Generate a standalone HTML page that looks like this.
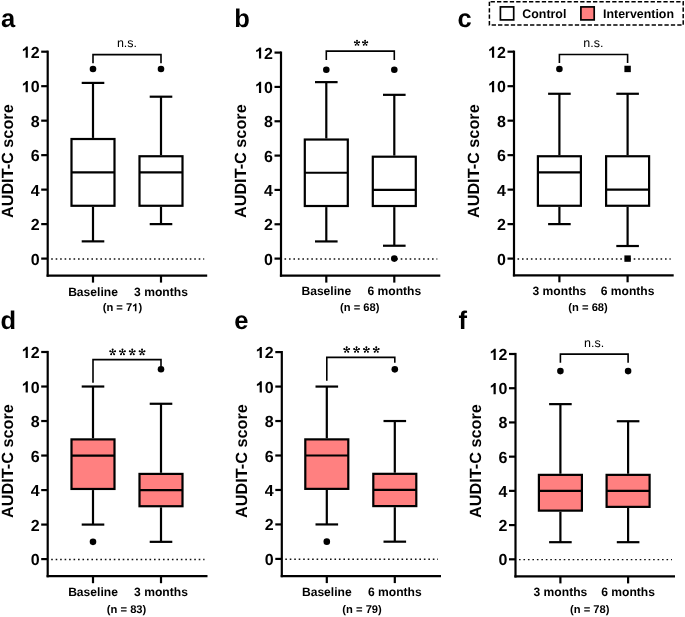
<!DOCTYPE html>
<html><head><meta charset="utf-8"><style>
html,body{margin:0;padding:0;background:#fff;width:685px;height:617px;overflow:hidden}
svg{display:block;will-change:transform}
text{font-family:"Liberation Sans", sans-serif;fill:#000;text-rendering:geometricPrecision}
</style></head><body>
<svg width="685" height="617" viewBox="0 0 685 617">
<rect width="685" height="617" fill="#fff"/>
<line x1="47.7" y1="50.6" x2="47.7" y2="276.7" stroke="#000" stroke-width="2.2" stroke-linecap="butt" />
<line x1="46.6" y1="275.6" x2="207.2" y2="275.6" stroke="#000" stroke-width="2.2" stroke-linecap="butt" />
<line x1="41.2" y1="258.6" x2="47.7" y2="258.6" stroke="#000" stroke-width="2.2" stroke-linecap="butt" />
<text x="39.6" y="264.6" font-size="16" font-weight="bold" text-anchor="end" >0</text>
<line x1="41.2" y1="224.12" x2="47.7" y2="224.12" stroke="#000" stroke-width="2.2" stroke-linecap="butt" />
<text x="39.6" y="230.12" font-size="16" font-weight="bold" text-anchor="end" >2</text>
<line x1="41.2" y1="189.63" x2="47.7" y2="189.63" stroke="#000" stroke-width="2.2" stroke-linecap="butt" />
<text x="39.6" y="195.63" font-size="16" font-weight="bold" text-anchor="end" >4</text>
<line x1="41.2" y1="155.15" x2="47.7" y2="155.15" stroke="#000" stroke-width="2.2" stroke-linecap="butt" />
<text x="39.6" y="161.15" font-size="16" font-weight="bold" text-anchor="end" >6</text>
<line x1="41.2" y1="120.67" x2="47.7" y2="120.67" stroke="#000" stroke-width="2.2" stroke-linecap="butt" />
<text x="39.6" y="126.67" font-size="16" font-weight="bold" text-anchor="end" >8</text>
<line x1="41.2" y1="86.18" x2="47.7" y2="86.18" stroke="#000" stroke-width="2.2" stroke-linecap="butt" />
<path transform="translate(21.8 92.18)" d="M6.05 0L6.05 -11.2L4.35 -11.2C3.85 -10.1 2.6 -9.1 1.1 -8.5L1.1 -6.5C2.1 -6.9 3.2 -7.4 3.85 -7.9L3.85 0Z" fill="#000"/>
<text x="39.6" y="92.18" font-size="16" font-weight="bold" text-anchor="end" >0</text>
<line x1="41.2" y1="51.7" x2="47.7" y2="51.7" stroke="#000" stroke-width="2.2" stroke-linecap="butt" />
<path transform="translate(21.8 57.7)" d="M6.05 0L6.05 -11.2L4.35 -11.2C3.85 -10.1 2.6 -9.1 1.1 -8.5L1.1 -6.5C2.1 -6.9 3.2 -7.4 3.85 -7.9L3.85 0Z" fill="#000"/>
<text x="39.6" y="57.7" font-size="16" font-weight="bold" text-anchor="end" >2</text>
<line x1="51.2" y1="258.9" x2="204.2" y2="258.9" stroke="#111" stroke-width="1.45" stroke-dasharray="1.6 2.87"/>
<line x1="93" y1="275.6" x2="93" y2="282.6" stroke="#000" stroke-width="2.2" stroke-linecap="butt" />
<line x1="161" y1="275.6" x2="161" y2="282.6" stroke="#000" stroke-width="2.2" stroke-linecap="butt" />
<line x1="93" y1="82.91" x2="93" y2="137.91" stroke="#000" stroke-width="2.2" stroke-linecap="butt" />
<line x1="93" y1="206.88" x2="93" y2="241.36" stroke="#000" stroke-width="2.2" stroke-linecap="butt" />
<line x1="81.7" y1="82.91" x2="104.3" y2="82.91" stroke="#000" stroke-width="2.2" stroke-linecap="butt" />
<line x1="81.7" y1="241.36" x2="104.3" y2="241.36" stroke="#000" stroke-width="2.2" stroke-linecap="butt" />
<rect x="71.5" y="139.01" width="43" height="66.77" fill="#fff" stroke="#000" stroke-width="2.2"/>
<line x1="71.5" y1="172.39" x2="114.5" y2="172.39" stroke="#000" stroke-width="2.2" stroke-linecap="butt" />
<line x1="161" y1="96.7" x2="161" y2="155.15" stroke="#000" stroke-width="2.2" stroke-linecap="butt" />
<line x1="161" y1="206.88" x2="161" y2="224.12" stroke="#000" stroke-width="2.2" stroke-linecap="butt" />
<line x1="149.7" y1="96.7" x2="172.3" y2="96.7" stroke="#000" stroke-width="2.2" stroke-linecap="butt" />
<line x1="149.7" y1="224.12" x2="172.3" y2="224.12" stroke="#000" stroke-width="2.2" stroke-linecap="butt" />
<rect x="139.5" y="156.25" width="43" height="49.52" fill="#fff" stroke="#000" stroke-width="2.2"/>
<line x1="139.5" y1="172.39" x2="182.5" y2="172.39" stroke="#000" stroke-width="2.2" stroke-linecap="butt" />
<circle cx="93" cy="68.94" r="3.3" fill="#000"/>
<circle cx="161" cy="68.94" r="3.3" fill="#000"/>
<path d="M93 63.2 V54.6 H161 V63.2" fill="none" stroke="#000" stroke-width="1.6"/>
<text x="127" y="47.4" font-size="12.5" font-weight="normal" text-anchor="middle" >n.s.</text>
<text x="93" y="295.6" font-size="12.1" font-weight="bold" text-anchor="middle" >Baseline</text>
<text x="161" y="295.6" font-size="12.1" font-weight="bold" text-anchor="middle" >3 months</text>
<path transform="translate(132.2 311.3) scale(0.7000)" d="M6.05 0L6.05 -11.2L4.35 -11.2C3.85 -10.1 2.6 -9.1 1.1 -8.5L1.1 -6.5C2.1 -6.9 3.2 -7.4 3.85 -7.9L3.85 0Z" fill="#000"/>
<text x="122.4" y="311.3" font-size="11.2" font-weight="bold" text-anchor="middle" >(n = 7&#8199;)</text>
<text x="0" y="0" font-size="16.25" font-weight="bold" text-anchor="middle" transform="translate(12.6 161.2) rotate(-90)">AUDIT-C score</text>
<text x="0.9" y="26.7" font-size="25.5" font-weight="bold" text-anchor="start" >a</text>
<line x1="281" y1="51.5" x2="281" y2="276.7" stroke="#000" stroke-width="2.2" stroke-linecap="butt" />
<line x1="279.9" y1="275.6" x2="440.3" y2="275.6" stroke="#000" stroke-width="2.2" stroke-linecap="butt" />
<line x1="274.5" y1="258.6" x2="281" y2="258.6" stroke="#000" stroke-width="2.2" stroke-linecap="butt" />
<text x="272.9" y="264.6" font-size="16" font-weight="bold" text-anchor="end" >0</text>
<line x1="274.5" y1="224.27" x2="281" y2="224.27" stroke="#000" stroke-width="2.2" stroke-linecap="butt" />
<text x="272.9" y="230.27" font-size="16" font-weight="bold" text-anchor="end" >2</text>
<line x1="274.5" y1="189.93" x2="281" y2="189.93" stroke="#000" stroke-width="2.2" stroke-linecap="butt" />
<text x="272.9" y="195.93" font-size="16" font-weight="bold" text-anchor="end" >4</text>
<line x1="274.5" y1="155.6" x2="281" y2="155.6" stroke="#000" stroke-width="2.2" stroke-linecap="butt" />
<text x="272.9" y="161.6" font-size="16" font-weight="bold" text-anchor="end" >6</text>
<line x1="274.5" y1="121.27" x2="281" y2="121.27" stroke="#000" stroke-width="2.2" stroke-linecap="butt" />
<text x="272.9" y="127.27" font-size="16" font-weight="bold" text-anchor="end" >8</text>
<line x1="274.5" y1="86.93" x2="281" y2="86.93" stroke="#000" stroke-width="2.2" stroke-linecap="butt" />
<path transform="translate(255.1 92.93)" d="M6.05 0L6.05 -11.2L4.35 -11.2C3.85 -10.1 2.6 -9.1 1.1 -8.5L1.1 -6.5C2.1 -6.9 3.2 -7.4 3.85 -7.9L3.85 0Z" fill="#000"/>
<text x="272.9" y="92.93" font-size="16" font-weight="bold" text-anchor="end" >0</text>
<line x1="274.5" y1="52.6" x2="281" y2="52.6" stroke="#000" stroke-width="2.2" stroke-linecap="butt" />
<path transform="translate(255.1 58.6)" d="M6.05 0L6.05 -11.2L4.35 -11.2C3.85 -10.1 2.6 -9.1 1.1 -8.5L1.1 -6.5C2.1 -6.9 3.2 -7.4 3.85 -7.9L3.85 0Z" fill="#000"/>
<text x="272.9" y="58.6" font-size="16" font-weight="bold" text-anchor="end" >2</text>
<line x1="284.5" y1="258.9" x2="437.3" y2="258.9" stroke="#111" stroke-width="1.45" stroke-dasharray="1.6 2.87"/>
<line x1="326.3" y1="275.6" x2="326.3" y2="282.6" stroke="#000" stroke-width="2.2" stroke-linecap="butt" />
<line x1="394.3" y1="275.6" x2="394.3" y2="282.6" stroke="#000" stroke-width="2.2" stroke-linecap="butt" />
<line x1="326.3" y1="82.13" x2="326.3" y2="138.43" stroke="#000" stroke-width="2.2" stroke-linecap="butt" />
<line x1="326.3" y1="207.1" x2="326.3" y2="241.43" stroke="#000" stroke-width="2.2" stroke-linecap="butt" />
<line x1="315" y1="82.13" x2="337.6" y2="82.13" stroke="#000" stroke-width="2.2" stroke-linecap="butt" />
<line x1="315" y1="241.43" x2="337.6" y2="241.43" stroke="#000" stroke-width="2.2" stroke-linecap="butt" />
<rect x="304.8" y="139.53" width="43" height="66.47" fill="#fff" stroke="#000" stroke-width="2.2"/>
<line x1="304.8" y1="172.77" x2="347.8" y2="172.77" stroke="#000" stroke-width="2.2" stroke-linecap="butt" />
<line x1="394.3" y1="94.83" x2="394.3" y2="155.6" stroke="#000" stroke-width="2.2" stroke-linecap="butt" />
<line x1="394.3" y1="207.1" x2="394.3" y2="245.73" stroke="#000" stroke-width="2.2" stroke-linecap="butt" />
<line x1="383" y1="94.83" x2="405.6" y2="94.83" stroke="#000" stroke-width="2.2" stroke-linecap="butt" />
<line x1="383" y1="245.73" x2="405.6" y2="245.73" stroke="#000" stroke-width="2.2" stroke-linecap="butt" />
<rect x="372.8" y="156.7" width="43" height="49.3" fill="#fff" stroke="#000" stroke-width="2.2"/>
<line x1="372.8" y1="189.93" x2="415.8" y2="189.93" stroke="#000" stroke-width="2.2" stroke-linecap="butt" />
<circle cx="326.3" cy="69.77" r="3.3" fill="#000"/>
<circle cx="394.3" cy="69.77" r="3.3" fill="#000"/>
<circle cx="394.3" cy="258.6" r="3.3" fill="#000"/>
<path d="M326.3 60 V51.1 H394.3 V60" fill="none" stroke="#000" stroke-width="1.6"/>
<circle cx="357.00" cy="40.70" r="0.92" fill="#000"/>
<circle cx="359.19" cy="42.29" r="0.92" fill="#000"/>
<circle cx="358.35" cy="44.86" r="0.92" fill="#000"/>
<circle cx="355.65" cy="44.86" r="0.92" fill="#000"/>
<circle cx="354.81" cy="42.29" r="0.92" fill="#000"/>
<path d="M357.00 43.00L357.00 40.70M357.00 43.00L359.19 42.29M357.00 43.00L358.35 44.86M357.00 43.00L355.65 44.86M357.00 43.00L354.81 42.29" stroke="#000" stroke-width="0.85" stroke-linecap="round" fill="none"/>
<circle cx="365.10" cy="40.70" r="0.92" fill="#000"/>
<circle cx="367.29" cy="42.29" r="0.92" fill="#000"/>
<circle cx="366.45" cy="44.86" r="0.92" fill="#000"/>
<circle cx="363.75" cy="44.86" r="0.92" fill="#000"/>
<circle cx="362.91" cy="42.29" r="0.92" fill="#000"/>
<path d="M365.10 43.00L365.10 40.70M365.10 43.00L367.29 42.29M365.10 43.00L366.45 44.86M365.10 43.00L363.75 44.86M365.10 43.00L362.91 42.29" stroke="#000" stroke-width="0.85" stroke-linecap="round" fill="none"/>
<text x="326.3" y="295.2" font-size="12.1" font-weight="bold" text-anchor="middle" >Baseline</text>
<text x="394.3" y="295.2" font-size="12.1" font-weight="bold" text-anchor="middle" >6 months</text>
<text x="359.8" y="311.3" font-size="11.2" font-weight="bold" text-anchor="middle" >(n = 68)</text>
<text x="0" y="0" font-size="16.25" font-weight="bold" text-anchor="middle" transform="translate(246.2 161.2) rotate(-90)">AUDIT-C score</text>
<text x="234.2" y="26.7" font-size="25.5" font-weight="bold" text-anchor="start" >b</text>
<line x1="514" y1="50.6" x2="514" y2="276.4" stroke="#000" stroke-width="2.2" stroke-linecap="butt" />
<line x1="512.9" y1="275.3" x2="673.7" y2="275.3" stroke="#000" stroke-width="2.2" stroke-linecap="butt" />
<line x1="507.5" y1="258.6" x2="514" y2="258.6" stroke="#000" stroke-width="2.2" stroke-linecap="butt" />
<text x="505.9" y="264.6" font-size="16" font-weight="bold" text-anchor="end" >0</text>
<line x1="507.5" y1="224.12" x2="514" y2="224.12" stroke="#000" stroke-width="2.2" stroke-linecap="butt" />
<text x="505.9" y="230.12" font-size="16" font-weight="bold" text-anchor="end" >2</text>
<line x1="507.5" y1="189.63" x2="514" y2="189.63" stroke="#000" stroke-width="2.2" stroke-linecap="butt" />
<text x="505.9" y="195.63" font-size="16" font-weight="bold" text-anchor="end" >4</text>
<line x1="507.5" y1="155.15" x2="514" y2="155.15" stroke="#000" stroke-width="2.2" stroke-linecap="butt" />
<text x="505.9" y="161.15" font-size="16" font-weight="bold" text-anchor="end" >6</text>
<line x1="507.5" y1="120.67" x2="514" y2="120.67" stroke="#000" stroke-width="2.2" stroke-linecap="butt" />
<text x="505.9" y="126.67" font-size="16" font-weight="bold" text-anchor="end" >8</text>
<line x1="507.5" y1="86.18" x2="514" y2="86.18" stroke="#000" stroke-width="2.2" stroke-linecap="butt" />
<path transform="translate(488.1 92.18)" d="M6.05 0L6.05 -11.2L4.35 -11.2C3.85 -10.1 2.6 -9.1 1.1 -8.5L1.1 -6.5C2.1 -6.9 3.2 -7.4 3.85 -7.9L3.85 0Z" fill="#000"/>
<text x="505.9" y="92.18" font-size="16" font-weight="bold" text-anchor="end" >0</text>
<line x1="507.5" y1="51.7" x2="514" y2="51.7" stroke="#000" stroke-width="2.2" stroke-linecap="butt" />
<path transform="translate(488.1 57.7)" d="M6.05 0L6.05 -11.2L4.35 -11.2C3.85 -10.1 2.6 -9.1 1.1 -8.5L1.1 -6.5C2.1 -6.9 3.2 -7.4 3.85 -7.9L3.85 0Z" fill="#000"/>
<text x="505.9" y="57.7" font-size="16" font-weight="bold" text-anchor="end" >2</text>
<line x1="517.5" y1="258.9" x2="670.7" y2="258.9" stroke="#111" stroke-width="1.45" stroke-dasharray="1.6 2.87"/>
<line x1="559.4" y1="275.3" x2="559.4" y2="282.3" stroke="#000" stroke-width="2.2" stroke-linecap="butt" />
<line x1="627.6" y1="275.3" x2="627.6" y2="282.3" stroke="#000" stroke-width="2.2" stroke-linecap="butt" />
<line x1="559.4" y1="93.77" x2="559.4" y2="155.15" stroke="#000" stroke-width="2.2" stroke-linecap="butt" />
<line x1="559.4" y1="206.88" x2="559.4" y2="224.12" stroke="#000" stroke-width="2.2" stroke-linecap="butt" />
<line x1="548.1" y1="93.77" x2="570.7" y2="93.77" stroke="#000" stroke-width="2.2" stroke-linecap="butt" />
<line x1="548.1" y1="224.12" x2="570.7" y2="224.12" stroke="#000" stroke-width="2.2" stroke-linecap="butt" />
<rect x="537.9" y="156.25" width="43" height="49.52" fill="#fff" stroke="#000" stroke-width="2.2"/>
<line x1="537.9" y1="172.39" x2="580.9" y2="172.39" stroke="#000" stroke-width="2.2" stroke-linecap="butt" />
<line x1="627.6" y1="93.77" x2="627.6" y2="155.15" stroke="#000" stroke-width="2.2" stroke-linecap="butt" />
<line x1="627.6" y1="206.88" x2="627.6" y2="246.01" stroke="#000" stroke-width="2.2" stroke-linecap="butt" />
<line x1="616.3" y1="93.77" x2="638.9" y2="93.77" stroke="#000" stroke-width="2.2" stroke-linecap="butt" />
<line x1="616.3" y1="246.01" x2="638.9" y2="246.01" stroke="#000" stroke-width="2.2" stroke-linecap="butt" />
<rect x="606.1" y="156.25" width="43" height="49.52" fill="#fff" stroke="#000" stroke-width="2.2"/>
<line x1="606.1" y1="189.63" x2="649.1" y2="189.63" stroke="#000" stroke-width="2.2" stroke-linecap="butt" />
<circle cx="559.4" cy="68.94" r="3.3" fill="#000"/>
<rect x="624.4" y="65.74" width="6.4" height="6.4" fill="#000"/>
<rect x="624.4" y="255.4" width="6.4" height="6.4" fill="#000"/>
<path d="M559.4 63 V54.5 H627.6 V63" fill="none" stroke="#000" stroke-width="1.6"/>
<text x="593.3" y="47.1" font-size="12.5" font-weight="normal" text-anchor="middle" >n.s.</text>
<text x="559.4" y="295.3" font-size="12.1" font-weight="bold" text-anchor="middle" >3 months</text>
<text x="627.6" y="295.3" font-size="12.1" font-weight="bold" text-anchor="middle" >6 months</text>
<text x="588.1" y="311.3" font-size="11.2" font-weight="bold" text-anchor="middle" >(n = 68)</text>
<text x="0" y="0" font-size="16.25" font-weight="bold" text-anchor="middle" transform="translate(479.2 161.2) rotate(-90)">AUDIT-C score</text>
<text x="457.5" y="26.7" font-size="25.5" font-weight="bold" text-anchor="start" >c</text>
<line x1="47.7" y1="350.9" x2="47.7" y2="577.3" stroke="#000" stroke-width="2.2" stroke-linecap="butt" />
<line x1="46.6" y1="576.2" x2="207.5" y2="576.2" stroke="#000" stroke-width="2.2" stroke-linecap="butt" />
<line x1="41.2" y1="559.1" x2="47.7" y2="559.1" stroke="#000" stroke-width="2.2" stroke-linecap="butt" />
<text x="39.6" y="565.1" font-size="16" font-weight="bold" text-anchor="end" >0</text>
<line x1="41.2" y1="524.58" x2="47.7" y2="524.58" stroke="#000" stroke-width="2.2" stroke-linecap="butt" />
<text x="39.6" y="530.58" font-size="16" font-weight="bold" text-anchor="end" >2</text>
<line x1="41.2" y1="490.07" x2="47.7" y2="490.07" stroke="#000" stroke-width="2.2" stroke-linecap="butt" />
<text x="39.6" y="496.07" font-size="16" font-weight="bold" text-anchor="end" >4</text>
<line x1="41.2" y1="455.55" x2="47.7" y2="455.55" stroke="#000" stroke-width="2.2" stroke-linecap="butt" />
<text x="39.6" y="461.55" font-size="16" font-weight="bold" text-anchor="end" >6</text>
<line x1="41.2" y1="421.03" x2="47.7" y2="421.03" stroke="#000" stroke-width="2.2" stroke-linecap="butt" />
<text x="39.6" y="427.03" font-size="16" font-weight="bold" text-anchor="end" >8</text>
<line x1="41.2" y1="386.52" x2="47.7" y2="386.52" stroke="#000" stroke-width="2.2" stroke-linecap="butt" />
<path transform="translate(21.8 392.52)" d="M6.05 0L6.05 -11.2L4.35 -11.2C3.85 -10.1 2.6 -9.1 1.1 -8.5L1.1 -6.5C2.1 -6.9 3.2 -7.4 3.85 -7.9L3.85 0Z" fill="#000"/>
<text x="39.6" y="392.52" font-size="16" font-weight="bold" text-anchor="end" >0</text>
<line x1="41.2" y1="352" x2="47.7" y2="352" stroke="#000" stroke-width="2.2" stroke-linecap="butt" />
<path transform="translate(21.8 358)" d="M6.05 0L6.05 -11.2L4.35 -11.2C3.85 -10.1 2.6 -9.1 1.1 -8.5L1.1 -6.5C2.1 -6.9 3.2 -7.4 3.85 -7.9L3.85 0Z" fill="#000"/>
<text x="39.6" y="358" font-size="16" font-weight="bold" text-anchor="end" >2</text>
<line x1="51.2" y1="559.4" x2="204.5" y2="559.4" stroke="#111" stroke-width="1.45" stroke-dasharray="1.6 2.87"/>
<line x1="93" y1="576.2" x2="93" y2="583.2" stroke="#000" stroke-width="2.2" stroke-linecap="butt" />
<line x1="161" y1="576.2" x2="161" y2="583.2" stroke="#000" stroke-width="2.2" stroke-linecap="butt" />
<line x1="93" y1="386.52" x2="93" y2="438.29" stroke="#000" stroke-width="2.2" stroke-linecap="butt" />
<line x1="93" y1="490.07" x2="93" y2="524.58" stroke="#000" stroke-width="2.2" stroke-linecap="butt" />
<line x1="81.7" y1="386.52" x2="104.3" y2="386.52" stroke="#000" stroke-width="2.2" stroke-linecap="butt" />
<line x1="81.7" y1="524.58" x2="104.3" y2="524.58" stroke="#000" stroke-width="2.2" stroke-linecap="butt" />
<rect x="71.5" y="439.39" width="43" height="49.57" fill="#FF8080" stroke="#000" stroke-width="2.2"/>
<line x1="71.5" y1="455.55" x2="114.5" y2="455.55" stroke="#000" stroke-width="2.2" stroke-linecap="butt" />
<line x1="161" y1="403.77" x2="161" y2="472.81" stroke="#000" stroke-width="2.2" stroke-linecap="butt" />
<line x1="161" y1="507.33" x2="161" y2="541.84" stroke="#000" stroke-width="2.2" stroke-linecap="butt" />
<line x1="149.7" y1="403.77" x2="172.3" y2="403.77" stroke="#000" stroke-width="2.2" stroke-linecap="butt" />
<line x1="149.7" y1="541.84" x2="172.3" y2="541.84" stroke="#000" stroke-width="2.2" stroke-linecap="butt" />
<rect x="139.5" y="473.91" width="43" height="32.32" fill="#FF8080" stroke="#000" stroke-width="2.2"/>
<line x1="139.5" y1="490.07" x2="182.5" y2="490.07" stroke="#000" stroke-width="2.2" stroke-linecap="butt" />
<circle cx="93" cy="541.84" r="3.3" fill="#000"/>
<circle cx="161" cy="369.26" r="3.3" fill="#000"/>
<path d="M93 382.7 V359.6 H161 V366.5" fill="none" stroke="#000" stroke-width="1.6"/>
<circle cx="112.65" cy="349.60" r="1.0" fill="#000"/>
<circle cx="115.08" cy="351.36" r="1.0" fill="#000"/>
<circle cx="114.15" cy="354.21" r="1.0" fill="#000"/>
<circle cx="111.15" cy="354.21" r="1.0" fill="#000"/>
<circle cx="110.22" cy="351.36" r="1.0" fill="#000"/>
<path d="M112.65 352.15L112.65 349.60M112.65 352.15L115.08 351.36M112.65 352.15L114.15 354.21M112.65 352.15L111.15 354.21M112.65 352.15L110.22 351.36" stroke="#000" stroke-width="0.9" stroke-linecap="round" fill="none"/>
<circle cx="122.45" cy="349.60" r="1.0" fill="#000"/>
<circle cx="124.88" cy="351.36" r="1.0" fill="#000"/>
<circle cx="123.95" cy="354.21" r="1.0" fill="#000"/>
<circle cx="120.95" cy="354.21" r="1.0" fill="#000"/>
<circle cx="120.02" cy="351.36" r="1.0" fill="#000"/>
<path d="M122.45 352.15L122.45 349.60M122.45 352.15L124.88 351.36M122.45 352.15L123.95 354.21M122.45 352.15L120.95 354.21M122.45 352.15L120.02 351.36" stroke="#000" stroke-width="0.9" stroke-linecap="round" fill="none"/>
<circle cx="132.25" cy="349.60" r="1.0" fill="#000"/>
<circle cx="134.68" cy="351.36" r="1.0" fill="#000"/>
<circle cx="133.75" cy="354.21" r="1.0" fill="#000"/>
<circle cx="130.75" cy="354.21" r="1.0" fill="#000"/>
<circle cx="129.82" cy="351.36" r="1.0" fill="#000"/>
<path d="M132.25 352.15L132.25 349.60M132.25 352.15L134.68 351.36M132.25 352.15L133.75 354.21M132.25 352.15L130.75 354.21M132.25 352.15L129.82 351.36" stroke="#000" stroke-width="0.9" stroke-linecap="round" fill="none"/>
<circle cx="142.05" cy="349.60" r="1.0" fill="#000"/>
<circle cx="144.48" cy="351.36" r="1.0" fill="#000"/>
<circle cx="143.55" cy="354.21" r="1.0" fill="#000"/>
<circle cx="140.55" cy="354.21" r="1.0" fill="#000"/>
<circle cx="139.62" cy="351.36" r="1.0" fill="#000"/>
<path d="M142.05 352.15L142.05 349.60M142.05 352.15L144.48 351.36M142.05 352.15L143.55 354.21M142.05 352.15L140.55 354.21M142.05 352.15L139.62 351.36" stroke="#000" stroke-width="0.9" stroke-linecap="round" fill="none"/>
<text x="93" y="596" font-size="12.1" font-weight="bold" text-anchor="middle" >Baseline</text>
<text x="161" y="596" font-size="12.1" font-weight="bold" text-anchor="middle" >3 months</text>
<text x="126.6" y="613" font-size="11.2" font-weight="bold" text-anchor="middle" >(n = 83)</text>
<text x="0" y="0" font-size="16.25" font-weight="bold" text-anchor="middle" transform="translate(12.6 461) rotate(-90)">AUDIT-C score</text>
<text x="0.5" y="328.5" font-size="25.5" font-weight="bold" text-anchor="start" >d</text>
<line x1="281.8" y1="351" x2="281.8" y2="577.2" stroke="#000" stroke-width="2.2" stroke-linecap="butt" />
<line x1="280.7" y1="576.1" x2="441" y2="576.1" stroke="#000" stroke-width="2.2" stroke-linecap="butt" />
<line x1="275.3" y1="558.9" x2="281.8" y2="558.9" stroke="#000" stroke-width="2.2" stroke-linecap="butt" />
<text x="273.6" y="564.9" font-size="16" font-weight="bold" text-anchor="end" >0</text>
<line x1="275.3" y1="524.43" x2="281.8" y2="524.43" stroke="#000" stroke-width="2.2" stroke-linecap="butt" />
<text x="273.6" y="530.43" font-size="16" font-weight="bold" text-anchor="end" >2</text>
<line x1="275.3" y1="489.97" x2="281.8" y2="489.97" stroke="#000" stroke-width="2.2" stroke-linecap="butt" />
<text x="273.6" y="495.97" font-size="16" font-weight="bold" text-anchor="end" >4</text>
<line x1="275.3" y1="455.5" x2="281.8" y2="455.5" stroke="#000" stroke-width="2.2" stroke-linecap="butt" />
<text x="273.6" y="461.5" font-size="16" font-weight="bold" text-anchor="end" >6</text>
<line x1="275.3" y1="421.03" x2="281.8" y2="421.03" stroke="#000" stroke-width="2.2" stroke-linecap="butt" />
<text x="273.6" y="427.03" font-size="16" font-weight="bold" text-anchor="end" >8</text>
<line x1="275.3" y1="386.57" x2="281.8" y2="386.57" stroke="#000" stroke-width="2.2" stroke-linecap="butt" />
<path transform="translate(255.8 392.57)" d="M6.05 0L6.05 -11.2L4.35 -11.2C3.85 -10.1 2.6 -9.1 1.1 -8.5L1.1 -6.5C2.1 -6.9 3.2 -7.4 3.85 -7.9L3.85 0Z" fill="#000"/>
<text x="273.6" y="392.57" font-size="16" font-weight="bold" text-anchor="end" >0</text>
<line x1="275.3" y1="352.1" x2="281.8" y2="352.1" stroke="#000" stroke-width="2.2" stroke-linecap="butt" />
<path transform="translate(255.8 358.1)" d="M6.05 0L6.05 -11.2L4.35 -11.2C3.85 -10.1 2.6 -9.1 1.1 -8.5L1.1 -6.5C2.1 -6.9 3.2 -7.4 3.85 -7.9L3.85 0Z" fill="#000"/>
<text x="273.6" y="358.1" font-size="16" font-weight="bold" text-anchor="end" >2</text>
<line x1="285.3" y1="559.2" x2="438" y2="559.2" stroke="#111" stroke-width="1.45" stroke-dasharray="1.6 2.87"/>
<line x1="326.8" y1="576.1" x2="326.8" y2="583.1" stroke="#000" stroke-width="2.2" stroke-linecap="butt" />
<line x1="394.8" y1="576.1" x2="394.8" y2="583.1" stroke="#000" stroke-width="2.2" stroke-linecap="butt" />
<line x1="326.8" y1="386.57" x2="326.8" y2="438.27" stroke="#000" stroke-width="2.2" stroke-linecap="butt" />
<line x1="326.8" y1="489.97" x2="326.8" y2="524.43" stroke="#000" stroke-width="2.2" stroke-linecap="butt" />
<line x1="315.5" y1="386.57" x2="338.1" y2="386.57" stroke="#000" stroke-width="2.2" stroke-linecap="butt" />
<line x1="315.5" y1="524.43" x2="338.1" y2="524.43" stroke="#000" stroke-width="2.2" stroke-linecap="butt" />
<rect x="305.3" y="439.37" width="43" height="49.5" fill="#FF8080" stroke="#000" stroke-width="2.2"/>
<line x1="305.3" y1="455.5" x2="348.3" y2="455.5" stroke="#000" stroke-width="2.2" stroke-linecap="butt" />
<line x1="394.8" y1="421.03" x2="394.8" y2="472.73" stroke="#000" stroke-width="2.2" stroke-linecap="butt" />
<line x1="394.8" y1="507.2" x2="394.8" y2="541.67" stroke="#000" stroke-width="2.2" stroke-linecap="butt" />
<line x1="383.5" y1="421.03" x2="406.1" y2="421.03" stroke="#000" stroke-width="2.2" stroke-linecap="butt" />
<line x1="383.5" y1="541.67" x2="406.1" y2="541.67" stroke="#000" stroke-width="2.2" stroke-linecap="butt" />
<rect x="373.3" y="473.83" width="43" height="32.27" fill="#FF8080" stroke="#000" stroke-width="2.2"/>
<line x1="373.3" y1="489.97" x2="416.3" y2="489.97" stroke="#000" stroke-width="2.2" stroke-linecap="butt" />
<circle cx="326.8" cy="541.67" r="3.3" fill="#000"/>
<circle cx="394.8" cy="369.33" r="3.3" fill="#000"/>
<path d="M326.8 380.7 V357.4 H394.8 V362.8" fill="none" stroke="#000" stroke-width="1.6"/>
<circle cx="346.70" cy="347.25" r="1.0" fill="#000"/>
<circle cx="349.13" cy="349.01" r="1.0" fill="#000"/>
<circle cx="348.20" cy="351.86" r="1.0" fill="#000"/>
<circle cx="345.20" cy="351.86" r="1.0" fill="#000"/>
<circle cx="344.27" cy="349.01" r="1.0" fill="#000"/>
<path d="M346.70 349.80L346.70 347.25M346.70 349.80L349.13 349.01M346.70 349.80L348.20 351.86M346.70 349.80L345.20 351.86M346.70 349.80L344.27 349.01" stroke="#000" stroke-width="0.9" stroke-linecap="round" fill="none"/>
<circle cx="356.55" cy="347.25" r="1.0" fill="#000"/>
<circle cx="358.98" cy="349.01" r="1.0" fill="#000"/>
<circle cx="358.05" cy="351.86" r="1.0" fill="#000"/>
<circle cx="355.05" cy="351.86" r="1.0" fill="#000"/>
<circle cx="354.12" cy="349.01" r="1.0" fill="#000"/>
<path d="M356.55 349.80L356.55 347.25M356.55 349.80L358.98 349.01M356.55 349.80L358.05 351.86M356.55 349.80L355.05 351.86M356.55 349.80L354.12 349.01" stroke="#000" stroke-width="0.9" stroke-linecap="round" fill="none"/>
<circle cx="366.40" cy="347.25" r="1.0" fill="#000"/>
<circle cx="368.83" cy="349.01" r="1.0" fill="#000"/>
<circle cx="367.90" cy="351.86" r="1.0" fill="#000"/>
<circle cx="364.90" cy="351.86" r="1.0" fill="#000"/>
<circle cx="363.97" cy="349.01" r="1.0" fill="#000"/>
<path d="M366.40 349.80L366.40 347.25M366.40 349.80L368.83 349.01M366.40 349.80L367.90 351.86M366.40 349.80L364.90 351.86M366.40 349.80L363.97 349.01" stroke="#000" stroke-width="0.9" stroke-linecap="round" fill="none"/>
<circle cx="376.25" cy="347.25" r="1.0" fill="#000"/>
<circle cx="378.68" cy="349.01" r="1.0" fill="#000"/>
<circle cx="377.75" cy="351.86" r="1.0" fill="#000"/>
<circle cx="374.75" cy="351.86" r="1.0" fill="#000"/>
<circle cx="373.82" cy="349.01" r="1.0" fill="#000"/>
<path d="M376.25 349.80L376.25 347.25M376.25 349.80L378.68 349.01M376.25 349.80L377.75 351.86M376.25 349.80L374.75 351.86M376.25 349.80L373.82 349.01" stroke="#000" stroke-width="0.9" stroke-linecap="round" fill="none"/>
<text x="326.8" y="596" font-size="12.1" font-weight="bold" text-anchor="middle" >Baseline</text>
<text x="394.8" y="596" font-size="12.1" font-weight="bold" text-anchor="middle" >6 months</text>
<text x="362.1" y="613" font-size="11.2" font-weight="bold" text-anchor="middle" >(n = 79)</text>
<text x="0" y="0" font-size="16.25" font-weight="bold" text-anchor="middle" transform="translate(246.8 461) rotate(-90)">AUDIT-C score</text>
<text x="234.2" y="328.5" font-size="25.5" font-weight="bold" text-anchor="start" >e</text>
<line x1="515.5" y1="352.9" x2="515.5" y2="577.5" stroke="#000" stroke-width="2.2" stroke-linecap="butt" />
<line x1="514.4" y1="576.4" x2="675" y2="576.4" stroke="#000" stroke-width="2.2" stroke-linecap="butt" />
<line x1="509" y1="559.3" x2="515.5" y2="559.3" stroke="#000" stroke-width="2.2" stroke-linecap="butt" />
<text x="507.5" y="565.3" font-size="16" font-weight="bold" text-anchor="end" >0</text>
<line x1="509" y1="525.08" x2="515.5" y2="525.08" stroke="#000" stroke-width="2.2" stroke-linecap="butt" />
<text x="507.5" y="531.08" font-size="16" font-weight="bold" text-anchor="end" >2</text>
<line x1="509" y1="490.87" x2="515.5" y2="490.87" stroke="#000" stroke-width="2.2" stroke-linecap="butt" />
<text x="507.5" y="496.87" font-size="16" font-weight="bold" text-anchor="end" >4</text>
<line x1="509" y1="456.65" x2="515.5" y2="456.65" stroke="#000" stroke-width="2.2" stroke-linecap="butt" />
<text x="507.5" y="462.65" font-size="16" font-weight="bold" text-anchor="end" >6</text>
<line x1="509" y1="422.43" x2="515.5" y2="422.43" stroke="#000" stroke-width="2.2" stroke-linecap="butt" />
<text x="507.5" y="428.43" font-size="16" font-weight="bold" text-anchor="end" >8</text>
<line x1="509" y1="388.22" x2="515.5" y2="388.22" stroke="#000" stroke-width="2.2" stroke-linecap="butt" />
<path transform="translate(489.7 394.22)" d="M6.05 0L6.05 -11.2L4.35 -11.2C3.85 -10.1 2.6 -9.1 1.1 -8.5L1.1 -6.5C2.1 -6.9 3.2 -7.4 3.85 -7.9L3.85 0Z" fill="#000"/>
<text x="507.5" y="394.22" font-size="16" font-weight="bold" text-anchor="end" >0</text>
<line x1="509" y1="354" x2="515.5" y2="354" stroke="#000" stroke-width="2.2" stroke-linecap="butt" />
<path transform="translate(489.7 360)" d="M6.05 0L6.05 -11.2L4.35 -11.2C3.85 -10.1 2.6 -9.1 1.1 -8.5L1.1 -6.5C2.1 -6.9 3.2 -7.4 3.85 -7.9L3.85 0Z" fill="#000"/>
<text x="507.5" y="360" font-size="16" font-weight="bold" text-anchor="end" >2</text>
<line x1="519" y1="559.6" x2="672" y2="559.6" stroke="#111" stroke-width="1.45" stroke-dasharray="1.6 2.87"/>
<line x1="560.4" y1="576.4" x2="560.4" y2="583.4" stroke="#000" stroke-width="2.2" stroke-linecap="butt" />
<line x1="628.1" y1="576.4" x2="628.1" y2="583.4" stroke="#000" stroke-width="2.2" stroke-linecap="butt" />
<line x1="560.4" y1="404.13" x2="560.4" y2="473.76" stroke="#000" stroke-width="2.2" stroke-linecap="butt" />
<line x1="560.4" y1="511.74" x2="560.4" y2="542.19" stroke="#000" stroke-width="2.2" stroke-linecap="butt" />
<line x1="549.1" y1="404.13" x2="571.7" y2="404.13" stroke="#000" stroke-width="2.2" stroke-linecap="butt" />
<line x1="549.1" y1="542.19" x2="571.7" y2="542.19" stroke="#000" stroke-width="2.2" stroke-linecap="butt" />
<rect x="538.9" y="474.86" width="43" height="35.78" fill="#FF8080" stroke="#000" stroke-width="2.2"/>
<line x1="538.9" y1="490.87" x2="581.9" y2="490.87" stroke="#000" stroke-width="2.2" stroke-linecap="butt" />
<line x1="628.1" y1="421.24" x2="628.1" y2="473.76" stroke="#000" stroke-width="2.2" stroke-linecap="butt" />
<line x1="628.1" y1="507.97" x2="628.1" y2="542.19" stroke="#000" stroke-width="2.2" stroke-linecap="butt" />
<line x1="616.8" y1="421.24" x2="639.4" y2="421.24" stroke="#000" stroke-width="2.2" stroke-linecap="butt" />
<line x1="616.8" y1="542.19" x2="639.4" y2="542.19" stroke="#000" stroke-width="2.2" stroke-linecap="butt" />
<rect x="606.6" y="474.86" width="43" height="32.02" fill="#FF8080" stroke="#000" stroke-width="2.2"/>
<line x1="606.6" y1="490.87" x2="649.6" y2="490.87" stroke="#000" stroke-width="2.2" stroke-linecap="butt" />
<circle cx="560.4" cy="371.11" r="3.3" fill="#000"/>
<circle cx="628.1" cy="371.11" r="3.3" fill="#000"/>
<path d="M560.4 362.7 V354.1 H628.1 V362.7" fill="none" stroke="#000" stroke-width="1.6"/>
<text x="594.2" y="347" font-size="12.5" font-weight="normal" text-anchor="middle" >n.s.</text>
<text x="560.4" y="596" font-size="12.1" font-weight="bold" text-anchor="middle" >3 months</text>
<text x="628.1" y="596" font-size="12.1" font-weight="bold" text-anchor="middle" >6 months</text>
<text x="589.8" y="613" font-size="11.2" font-weight="bold" text-anchor="middle" >(n = 78)</text>
<text x="0" y="0" font-size="16.25" font-weight="bold" text-anchor="middle" transform="translate(480.5 461) rotate(-90)">AUDIT-C score</text>
<text x="458.6" y="328.5" font-size="25.5" font-weight="bold" text-anchor="start" >f</text>

<path d="M489.4 1.75V25.1H683.2V1.75Z" fill="none" stroke="#000" stroke-width="1.5" stroke-dasharray="4.3 2.1"/>
<rect x="500.4" y="6.9" width="13.3" height="13" fill="#fff" stroke="#000" stroke-width="1.7"/>
<text x="522.3" y="17.6" font-size="12.4" font-weight="bold">Control</text>
<rect x="580.9" y="6.9" width="13.3" height="13" fill="#FF8080" stroke="#000" stroke-width="1.7"/>
<text x="603.1" y="17.6" font-size="12.4" font-weight="bold">Intervention</text>

</svg>
</body></html>
